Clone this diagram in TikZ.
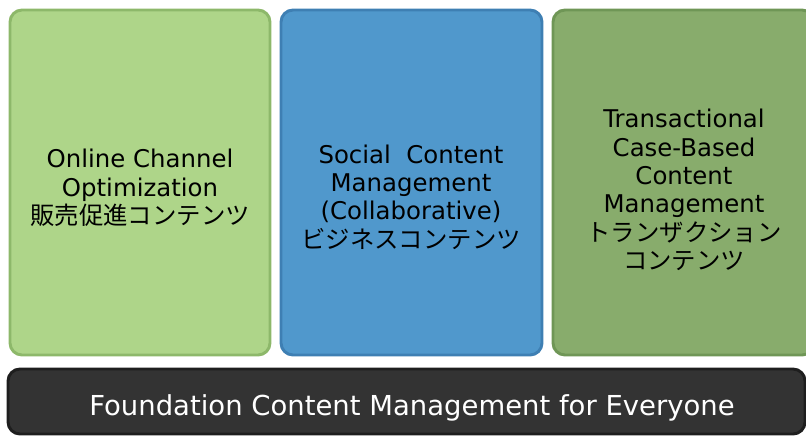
\documentclass[tikz,border=0pt]{standalone}
\usepackage{fontspec}
\setmainfont{DejaVu Sans}
\newfontfamily\jp{Noto Sans CJK JP}
\definecolor{gA}{HTML}{AED589}
\definecolor{gAd}{HTML}{8DB86A}
\definecolor{bB}{HTML}{5098CC}
\definecolor{bBd}{HTML}{3E7FB3}
\definecolor{gC}{HTML}{88AC6C}
\definecolor{gCd}{HTML}{6F9656}
\definecolor{bar}{HTML}{333333}
\definecolor{bard}{HTML}{1E1E1E}
\begin{document}
\begin{tikzpicture}[x=0.75pt,y=-0.75pt,
  panel/.style={rounded corners=9pt,line width=2.2pt},
  ptext/.style={align=center,font=\fontsize{18.3}{21.3}\selectfont,text=black,inner sep=0pt},
  btext/.style={font=\fontsize{20.6}{24}\selectfont,text=white,inner sep=0pt}]
\useasboundingbox (0,0) rectangle (806,436);
\begin{scope}
\clip (0,0) rectangle (806,436);
\draw[panel,fill=gA,draw=gAd] (10,10) rectangle (270,355);
\draw[panel,fill=bB,draw=bBd] (281,10) rectangle (542,355);
\draw[panel,fill=gC,draw=gCd] (553,10) rectangle (814,355);
\draw[panel,fill=bar,draw=bard] (8,369) rectangle (805,434);
\end{scope}
\node[ptext] (t1) at (140,188) {Online Channel\\Optimization\\{\jp 販売促進コンテンツ}};
\node[ptext] (t2) at (411,197) {Social\ \ Content\\Management\\(Collaborative)\\{\jp ビジネスコンテンツ}};
\node[ptext] (t3) at (684,190) {Transactional\\Case-Based\\Content\\Management\\{\jp トランザクション}\\{\jp コンテンツ}};
\node[btext] (t4) at (412,408) {Foundation Content Management for Everyone};
\end{tikzpicture}
\end{document}
